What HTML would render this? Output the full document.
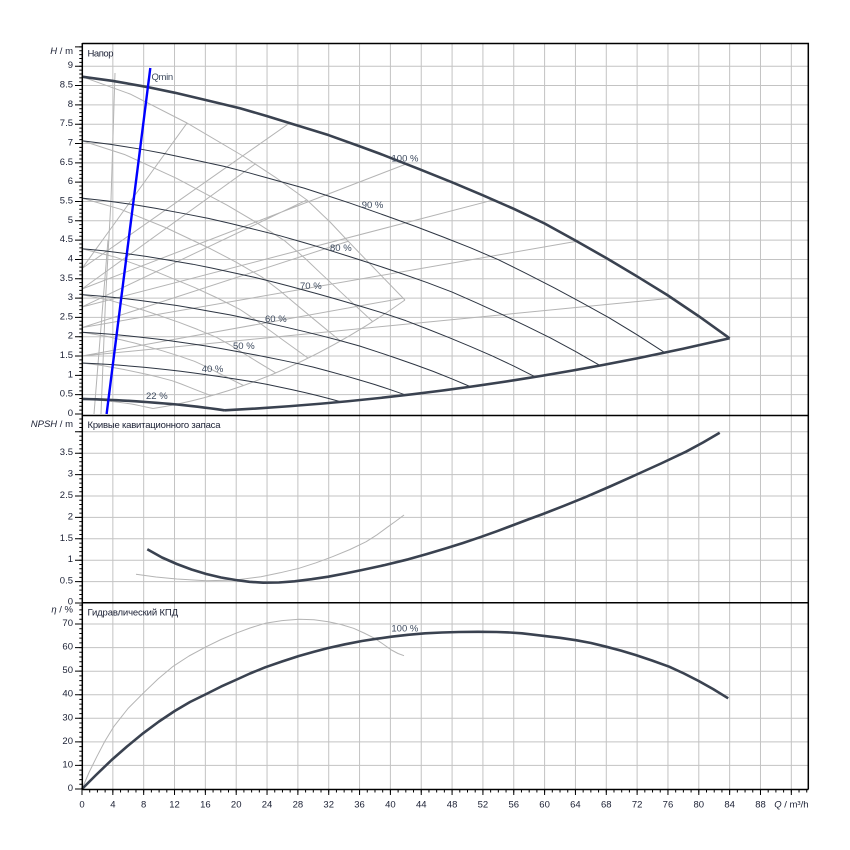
<!DOCTYPE html>
<html><head><meta charset="utf-8"><style>
html,body{margin:0;padding:0;background:#fff;}
svg{display:block;}
text{font-family:"Liberation Sans","Noto Sans CJK SC",sans-serif;font-size:9.5px;fill:#1a1f33;}
.lab{fill:#3d4a5e;}
g.data path{vector-effect:non-scaling-stroke;}
</style></head><body>
<svg width="850" height="850" viewBox="0 0 850 850" xmlns="http://www.w3.org/2000/svg">
<rect width="850" height="850" fill="#fff"/>

<!-- grid -->
<g stroke="#c3c3c3" stroke-width="1" fill="none">
<path d="M112.84,43.5V789M143.68,43.5V789M174.52,43.5V789M205.36,43.5V789M236.2,43.5V789M267.04,43.5V789M297.88,43.5V789M328.72,43.5V789M359.56,43.5V789M390.4,43.5V789M421.24,43.5V789M452.08,43.5V789M482.92,43.5V789M513.76,43.5V789M544.6,43.5V789M575.44,43.5V789M606.28,43.5V789M637.12,43.5V789M667.96,43.5V789M698.8,43.5V789M729.64,43.5V789M760.48,43.5V789M791.32,43.5V789"/>
<path d="M82,394.68H808M82,375.36H808M82,356.04H808M82,336.72H808M82,317.4H808M82,298.08H808M82,278.76H808M82,259.44H808M82,240.12H808M82,220.8H808M82,201.48H808M82,182.16H808M82,162.84H808M82,143.52H808M82,124.2H808M82,104.88H808M82,85.56H808M82,66.24H808"/>
<path d="M82,581.6H808M82,560.2H808M82,538.8H808M82,517.4H808M82,496H808M82,474.6H808M82,453.2H808M82,431.8H808"/>
<path d="M82,765.4H808M82,741.9H808M82,718.3H808M82,694.7H808M82,671.2H808M82,647.6H808M82,624H808"/>
</g>

<!-- gray near-vertical lines -->
<g stroke="#b4b4b4" stroke-width="1" fill="none">
<path d="M115,73 L111,200 L105.5,300 L101,414"/>
<path d="M108,240 L94,414"/>
</g>

<!-- top panel gray family -->
<g class="data" transform="matrix(7.71 0 0 -38.64 82 414)" fill="none" stroke="#b4b4b4" stroke-width="1" stroke-linejoin="round">
<path d="M0,8.73 L6.23,8.282 L13.62,7.531 L20.88,6.677 L25.03,6.133 L29.18,5.538 L32.17,4.969 L34.37,4.503 L37.74,3.804 L41.89,2.95"/>
<path transform="scale(0.9 0.81)" d="M0,8.73 L6.23,8.282 L13.62,7.531 L20.88,6.677 L25.03,6.133 L29.18,5.538 L32.17,4.969 L34.37,4.503 L37.74,3.804 L41.89,2.95"/>
<path transform="scale(0.8 0.64)" d="M0,8.73 L6.23,8.282 L13.62,7.531 L20.88,6.677 L25.03,6.133 L29.18,5.538 L32.17,4.969 L34.37,4.503 L37.74,3.804 L41.89,2.95"/>
<path transform="scale(0.7 0.49)" d="M0,8.73 L6.23,8.282 L13.62,7.531 L20.88,6.677 L25.03,6.133 L29.18,5.538 L32.17,4.969 L34.37,4.503 L37.74,3.804 L41.89,2.95"/>
<path transform="matrix(1 0.00215 0 1 0 -0.054) scale(0.6 0.36)" d="M0,8.73 L6.23,8.282 L13.62,7.531 L20.88,6.677 L25.03,6.133 L29.18,5.538 L32.17,4.969 L34.37,4.503 L37.74,3.804 L41.89,2.95"/>
<path transform="matrix(1 0.0032 0 1 0 -0.067) scale(0.5 0.25)" d="M0,8.73 L6.23,8.282 L13.62,7.531 L20.88,6.677 L25.03,6.133 L29.18,5.538 L32.17,4.969 L34.37,4.503 L37.74,3.804 L41.89,2.95"/>
<path transform="matrix(1 0.00465 0 1 0 -0.078) scale(0.4 0.16)" d="M0,8.73 L6.23,8.282 L13.62,7.531 L20.88,6.677 L25.03,6.133 L29.18,5.538 L32.17,4.969 L34.37,4.503 L37.74,3.804 L41.89,2.95"/>
<path transform="matrix(1 0.00369 0 1 0 -0.034) scale(0.22 0.0484)" d="M0,8.73 L6.23,8.282 L13.62,7.531 L20.88,6.677 L25.03,6.133 L29.18,5.538 L32.17,4.969 L34.37,4.503 L37.74,3.804 L41.89,2.95"/>
<path d="M9.216,0.1428 Q25.553,0.649 41.89,2.95"/>
<path d="M0,3.765 L26.92,7.53 M0,3.765 L13.62,7.53 M0,3.235 L42.05,6.47 M0,3.235 L22.46,6.47 M0,2.77 L53.37,5.54 M0,2.77 L29.18,5.54 M0,2.235 L64.18,4.47 M0,2.235 L34.53,4.47 M0,1.5 L76.5,3.0 M0,1.5 L41.65,3.0"/>
</g>

<!-- top panel thin speed curves -->
<g class="data" transform="matrix(7.71 0 0 -38.64 82 414)" fill="none" stroke="#2d3542" stroke-width="1" stroke-linejoin="round">
<path transform="scale(0.9 0.81)" d="M0,8.73 L4,8.62 L8.39,8.465 L12,8.316 L16.17,8.12 L20.49,7.912 L24,7.71 L27.41,7.5 L32,7.216 L36,6.93 L38.65,6.735 L43.84,6.33 L48.08,5.99 L52,5.66 L56,5.31 L60,4.93 L64,4.49 L68.05,4.03 L72,3.56 L75.91,3.08 L80,2.53 L84,1.96"/>
<path transform="scale(0.8 0.64)" d="M0,8.73 L4,8.62 L8.39,8.465 L12,8.316 L16.17,8.12 L20.49,7.912 L24,7.71 L27.41,7.5 L32,7.216 L36,6.93 L38.65,6.735 L43.84,6.33 L48.08,5.99 L52,5.66 L56,5.31 L60,4.93 L64,4.49 L68.05,4.03 L72,3.56 L75.91,3.08 L80,2.53 L84,1.96"/>
<path transform="scale(0.7 0.49)" d="M0,8.73 L4,8.62 L8.39,8.465 L12,8.316 L16.17,8.12 L20.49,7.912 L24,7.71 L27.41,7.5 L32,7.216 L36,6.93 L38.65,6.735 L43.84,6.33 L48.08,5.99 L52,5.66 L56,5.31 L60,4.93 L64,4.49 L68.05,4.03 L72,3.56 L75.91,3.08 L80,2.53 L84,1.96"/>
<path transform="matrix(1 0.00107 0 1 0 -0.054) scale(0.6 0.36)" d="M0,8.73 L4,8.62 L8.39,8.465 L12,8.316 L16.17,8.12 L20.49,7.912 L24,7.71 L27.41,7.5 L32,7.216 L36,6.93 L38.65,6.735 L43.84,6.33 L48.08,5.99 L52,5.66 L56,5.31 L60,4.93 L64,4.49 L68.05,4.03 L72,3.56 L75.91,3.08 L80,2.53 L84,1.96"/>
<path transform="matrix(1 0.0016 0 1 0 -0.067) scale(0.5 0.25)" d="M0,8.73 L4,8.62 L8.39,8.465 L12,8.316 L16.17,8.12 L20.49,7.912 L24,7.71 L27.41,7.5 L32,7.216 L36,6.93 L38.65,6.735 L43.84,6.33 L48.08,5.99 L52,5.66 L56,5.31 L60,4.93 L64,4.49 L68.05,4.03 L72,3.56 L75.91,3.08 L80,2.53 L84,1.96"/>
<path transform="matrix(1 0.00232 0 1 0 -0.078) scale(0.4 0.16)" d="M0,8.73 L4,8.62 L8.39,8.465 L12,8.316 L16.17,8.12 L20.49,7.912 L24,7.71 L27.41,7.5 L32,7.216 L36,6.93 L38.65,6.735 L43.84,6.33 L48.08,5.99 L52,5.66 L56,5.31 L60,4.93 L64,4.49 L68.05,4.03 L72,3.56 L75.91,3.08 L80,2.53 L84,1.96"/>
</g>

<!-- top panel bold curves -->
<g class="data" transform="matrix(7.71 0 0 -38.64 82 414)" fill="none" stroke="#3a4250" stroke-width="2.6" stroke-linejoin="round">
<path d="M0,8.73 L4,8.62 L8.39,8.465 L12,8.316 L16.17,8.12 L20.49,7.912 L24,7.71 L27.41,7.5 L32,7.216 L36,6.93 L38.65,6.735 L43.84,6.33 L48.08,5.99 L52,5.66 L56,5.31 L60,4.93 L64,4.49 L68.05,4.03 L72,3.56 L75.91,3.08 L80,2.53 L84,1.96"/>
<path transform="matrix(1 0.00184 0 1 0 -0.034) scale(0.22 0.0484)" d="M0,8.73 L4,8.62 L8.39,8.465 L12,8.316 L16.17,8.12 L20.49,7.912 L24,7.71 L27.41,7.5 L32,7.216 L36,6.93 L38.65,6.735 L43.84,6.33 L48.08,5.99 L52,5.66 L56,5.31 L60,4.93 L64,4.49 L68.05,4.03 L72,3.56 L75.91,3.08 L80,2.53 L84,1.96"/>
<path d="M18.48,0.0949 Q51.24,0.4313 84,1.96"/>
</g>

<!-- Qmin -->
<path d="M150.3,68 L106.6,414" stroke="#0000ff" stroke-width="2.4" fill="none"/>

<!-- NPSH panel -->
<g fill="none" stroke-linejoin="round">
<path stroke="#b4b4b4" stroke-width="1" d="M136,574.3 L156,577 L176.8,579 L206.3,580.7 L235.7,580 L261,576.7 L280,572.8 L298.9,568.3 L316,562.8 L332.5,556.7 L350,549.5 L366.2,541.7 L377,534.8 L387.2,527.3 L396,521 L404,515"/>
<path stroke="#3a4250" stroke-width="2.6" d="M147.3,549.3 L162,557.5 L176.8,564 L191.5,569.5 L206.3,574 L221,577.5 L235.7,580 L249.4,581.8 L263.1,582.7 L278.9,582.5 L294.6,581.3 L311.5,579.2 L328.3,576.7 L345,573.5 L362,570 L385,565 L408.3,559.3 L427,554 L446.2,548.3 L463,543 L479.8,537.3 L496.7,531.3 L513.5,525 L528,519.5 L543,514 L564,505.8 L585,497.3 L610,486.5 L635.6,475 L661,463.5 L686,451.7 L703,442.5 L719.7,432.7"/>
</g>

<!-- Efficiency panel -->
<g fill="none" stroke-linejoin="round">
<path stroke="#b4b4b4" stroke-width="1" d="M82,789 L89,772.5 L96.8,756.7 L105,741 L113.7,726.7 L128,708.5 L143.1,693.3 L158,679 L172.6,666.7 L189,656 L206.3,646.7 L221,639.5 L235.7,633.3 L250,628 L265.2,623.3 L282,620.6 L298.9,619.3 L314,619.7 L328.3,621.7 L341,624.5 L353.6,628.3 L364,633 L374.6,638.3 L383,644 L391.4,650 L398,653.5 L404,655.7"/>
<path stroke="#3a4250" stroke-width="2.6" d="M82,789 L96,775 L111.6,760 L127,746.5 L143.1,733.3 L159,721.5 L174.7,711 L190,702 L206.3,694 L221,686.6 L235.7,680 L250,673.5 L265.2,667.3 L282,661.5 L298.9,656 L314,651.8 L328.3,648 L345,644.3 L362,641 L377,638.7 L391.4,636.7 L408,634.8 L425.1,633.3 L442,632.5 L458.8,632 L478,631.8 L496.7,632 L510,632.5 L521.9,633.3 L543,635.8 L560,637.8 L576.6,640.3 L591,643 L606.1,646.7 L621,650.6 L635.6,655 L652,660.5 L669.2,666.7 L684,673.5 L698.7,681 L713,689 L728.2,698.3"/>
</g>

<!-- ticks -->
<g stroke="#000" fill="none">
<line x1="80.8" y1="414.5" x2="80.8" y2="44" stroke-width="3" stroke-dasharray="1 2.864"/>
<line x1="78.5" y1="414.5" x2="78.5" y2="44" stroke-width="7" stroke-dasharray="1 18.32"/>
<line x1="80.8" y1="603.5" x2="80.8" y2="416" stroke-width="3" stroke-dasharray="1 3.28"/>
<line x1="78.5" y1="603.5" x2="78.5" y2="416" stroke-width="7" stroke-dasharray="1 20.4"/>
<line x1="80.8" y1="789.5" x2="80.8" y2="603" stroke-width="3" stroke-dasharray="1 3.714"/>
<line x1="78.5" y1="789.5" x2="78.5" y2="603" stroke-width="7" stroke-dasharray="1 22.57"/>
<line x1="81.5" y1="790.75" x2="809" y2="790.75" stroke-width="3.5" stroke-dasharray="1 6.71"/>
<line x1="81.5" y1="792" x2="809" y2="792" stroke-width="6" stroke-dasharray="1 29.84"/>
</g>

<!-- frame -->
<g stroke="#000" fill="none" stroke-width="1.5">
<path d="M82.3,43.5H808.3V789.5"/>
<path d="M82.3,43V789.5H808.3"/>
<path d="M82.3,415.5H808.3M82.3,602.8H808.3"/>
</g>

<!-- curve labels -->
<text class="lab" x="151.5" y="80" textLength="21.7">Qmin</text>
<text class="lab" x="391.5" y="161.5">100 %</text>
<text class="lab" x="361.7" y="208">90 %</text>
<text class="lab" x="330" y="251">80 %</text>
<text class="lab" x="300" y="289">70 %</text>
<text class="lab" x="265" y="322">60 %</text>
<text class="lab" x="233" y="349">50 %</text>
<text class="lab" x="201.7" y="372">40 %</text>
<text class="lab" x="146" y="399">22 %</text>
<text class="lab" x="391.4" y="631.7">100 %</text>

<!-- panel titles -->
<text x="87.5" y="56.5" textLength="26">Напор</text>
<text x="87.5" y="428" textLength="133">Кривые кавитационного запаса</text>
<text x="87.5" y="615.5" textLength="90.5">Гидравлический КПД</text>

<!-- axis titles -->
<text x="73" y="54" text-anchor="end"><tspan font-style="italic">H</tspan> / m</text>
<text x="73" y="427" text-anchor="end"><tspan font-style="italic">NPSH</tspan> / m</text>
<text x="73" y="612.5" text-anchor="end"><tspan font-style="italic">η</tspan> / %</text>
<text x="808.5" y="807.5" text-anchor="end"><tspan font-style="italic">Q</tspan> / m³/h</text>

<!-- Y tick labels top -->
<g text-anchor="end">
<text x="73" y="416">0</text>
<text x="73" y="396.7">0.5</text>
<text x="73" y="377.4">1</text>
<text x="73" y="358">1.5</text>
<text x="73" y="338.7">2</text>
<text x="73" y="319.4">2.5</text>
<text x="73" y="300.1">3</text>
<text x="73" y="280.8">3.5</text>
<text x="73" y="261.4">4</text>
<text x="73" y="242.1">4.5</text>
<text x="73" y="222.8">5</text>
<text x="73" y="203.5">5.5</text>
<text x="73" y="184.2">6</text>
<text x="73" y="164.8">6.5</text>
<text x="73" y="145.5">7</text>
<text x="73" y="126.2">7.5</text>
<text x="73" y="106.9">8</text>
<text x="73" y="87.6">8.5</text>
<text x="73" y="68.2">9</text>
<!-- NPSH -->
<text x="73" y="604.5">0</text>
<text x="73" y="583.6">0.5</text>
<text x="73" y="562.2">1</text>
<text x="73" y="540.8">1.5</text>
<text x="73" y="519.4">2</text>
<text x="73" y="498">2.5</text>
<text x="73" y="476.6">3</text>
<text x="73" y="455.2">3.5</text>
<!-- eff -->
<text x="73" y="791">0</text>
<text x="73" y="767.4">10</text>
<text x="73" y="743.9">20</text>
<text x="73" y="720.3">30</text>
<text x="73" y="696.7">40</text>
<text x="73" y="673.2">50</text>
<text x="73" y="649.6">60</text>
<text x="73" y="626">70</text>
</g>

<!-- X tick labels -->
<g text-anchor="middle">
<text x="82" y="807.5">0</text>
<text x="112.84" y="807.5">4</text>
<text x="143.68" y="807.5">8</text>
<text x="174.52" y="807.5">12</text>
<text x="205.36" y="807.5">16</text>
<text x="236.2" y="807.5">20</text>
<text x="267.04" y="807.5">24</text>
<text x="297.88" y="807.5">28</text>
<text x="328.72" y="807.5">32</text>
<text x="359.56" y="807.5">36</text>
<text x="390.4" y="807.5">40</text>
<text x="421.24" y="807.5">44</text>
<text x="452.08" y="807.5">48</text>
<text x="482.92" y="807.5">52</text>
<text x="513.76" y="807.5">56</text>
<text x="544.6" y="807.5">60</text>
<text x="575.44" y="807.5">64</text>
<text x="606.28" y="807.5">68</text>
<text x="637.12" y="807.5">72</text>
<text x="667.96" y="807.5">76</text>
<text x="698.8" y="807.5">80</text>
<text x="729.64" y="807.5">84</text>
<text x="760.48" y="807.5">88</text>
</g>
</svg>
</body></html>
